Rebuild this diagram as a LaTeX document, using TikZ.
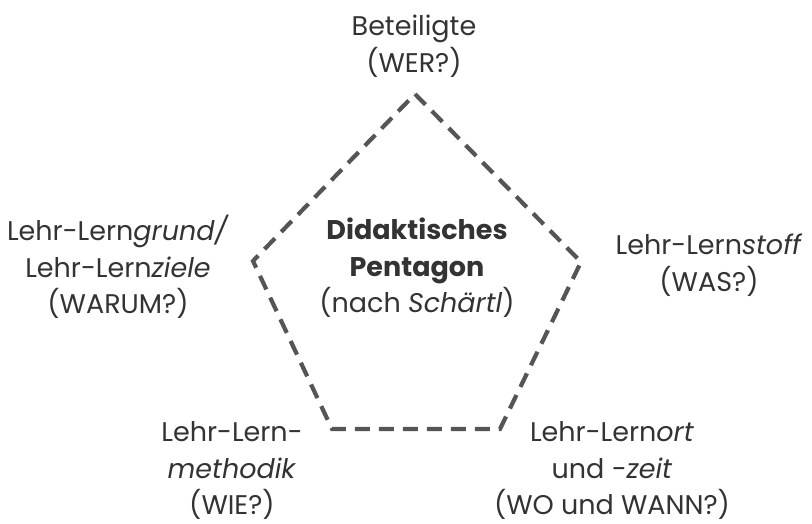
\documentclass[tikz,border=0pt]{standalone}
\usepackage{fontspec}
\setmainfont{Poppins}
\begin{document}
\begin{tikzpicture}[x=1pt,y=-1pt,
  lbl/.style={text=txtgray,align=center,font=\fontsize{27}{36.5}\selectfont,inner sep=0pt},
  edge/.style={draw=linegray,line width=4.2pt,dash pattern=on 15pt off 9pt}]
\definecolor{txtgray}{HTML}{333333}
\definecolor{linegray}{HTML}{555555}
\useasboundingbox[fill=white] (0,0) rectangle (812,523);
% pentagon corners
\coordinate (top) at (415,94);
\coordinate (right) at (581,262);
\coordinate (br) at (500,429);
\coordinate (bl) at (332,429);
\coordinate (left) at (253,261);
\draw[edge,line join=miter] (top) -- (right) -- (br) -- (bl) -- (left) -- cycle;
% labels
\node[lbl] (wer) at (414,46) {Beteiligte\\(WER?)};
\node[lbl] (warum) at (118,267) {Lehr-Lern\textit{grund/}\\Lehr-Lern\textit{ziele}\\(WARUM?)};
\node[lbl] (was) at (709,265) {Lehr-Lern\textit{stoff}\\(WAS?)};
\node[lbl] (center) at (417,268) {\textbf{Didaktisches}\\\textbf{Pentagon}\\(nach \textit{Schärtl})};
\node[lbl] (wie) at (232,471) {Lehr-Lern-\\\textit{methodik}\\(WIE?)};
\node[lbl] (wo) at (612,471) {Lehr-Lern\textit{ort}\\und \textit{-zeit}\\(WO und WANN?)};
\end{tikzpicture}
\end{document}
